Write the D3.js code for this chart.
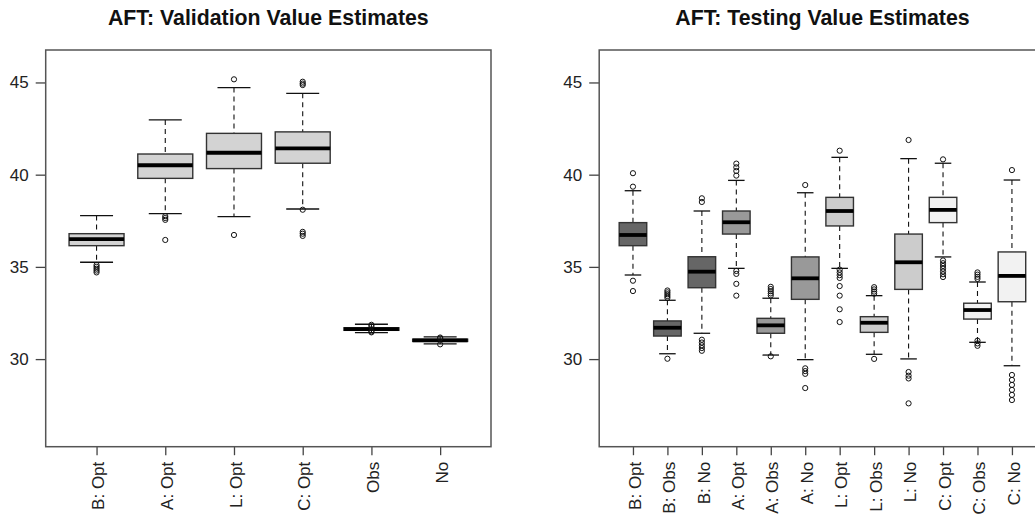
<!DOCTYPE html>
<html>
<head>
<meta charset="utf-8">
<title>AFT value estimates</title>
<script src="https://d3js.org/d3.v7.min.js"></script>
<style>
  body { margin: 0; background: #fff; }
  text { font-family: "Liberation Sans", Arial, sans-serif; fill: #222; }
</style>
</head>
<body>
<div id="chart"></div>
<script>
// ---- validation panel data ----
var valCats = ["B: Opt", "A: Opt", "L: Opt", "C: Opt", "Obs", "No"];
var valLow  = [35.25, 37.89, 37.72, 38.14, 31.43, 30.82];
var valQ1   = [36.15, 39.80, 40.33, 40.62, 31.56, 30.96];
var valMed  = [36.51, 40.51, 41.19, 41.43, 31.63, 31.02];
var valQ3   = [36.80, 41.12, 42.24, 42.32, 31.70, 31.08];
var valHigh = [37.78, 42.97, 44.72, 44.41, 31.89, 31.21];
var valOut  = [
  [35.10, 35.00, 34.90, 34.80, 34.70],
  [37.75, 37.65, 37.55, 36.46],
  [45.17, 36.73],
  [45.04, 44.94, 44.86, 38.10, 36.90, 36.80, 36.68],
  [31.86, 31.78, 31.50, 31.45],
  [31.17, 31.12, 30.80]
];
var valFill = ["#d3d3d3", "#d3d3d3", "#d3d3d3", "#d3d3d3", "#d3d3d3", "#d3d3d3"];

// ---- testing panel data ----
var tstCats = ["B: Opt", "B: Obs", "B: No", "A: Opt", "A: Obs", "A: No",
               "L: Opt", "L: Obs", "L: No", "C: Opt", "C: Obs", "C: No"];
var tstLow  = [34.56, 30.29, 31.40, 34.92, 30.22, 29.97, 34.92, 30.26, 30.01, 35.54, 30.91, 29.64];
var tstQ1   = [36.15, 31.25, 33.87, 36.78, 31.40, 33.24, 37.22, 31.45, 33.78, 37.40, 32.17, 33.11];
var tstMed  = [36.73, 31.70, 34.74, 37.42, 31.83, 34.38, 38.03, 31.97, 35.25, 38.09, 32.66, 34.51];
var tstQ3   = [37.40, 32.07, 35.55, 38.03, 32.21, 35.54, 38.77, 32.30, 36.78, 38.77, 33.03, 35.81];
var tstHigh = [39.13, 33.19, 38.03, 39.69, 33.30, 39.02, 40.94, 33.44, 40.87, 40.62, 34.18, 39.71];
var tstOut  = [
  [40.08, 39.35, 34.25, 33.69],
  [33.72, 33.62, 33.52, 33.42, 33.32, 30.02],
  [38.72, 38.52, 31.05, 30.90, 30.75, 30.60, 30.45],
  [40.60, 40.40, 40.20, 39.95, 34.78, 34.62, 34.08, 33.44],
  [33.92, 33.80, 33.68, 33.56, 33.45, 30.15],
  [39.44, 29.50, 29.35, 29.20, 28.43],
  [41.30, 34.85, 34.70, 34.55, 34.40, 33.96, 33.44, 32.70, 32.01],
  [33.90, 33.78, 33.66, 33.55, 30.01],
  [41.88, 29.30, 29.10, 28.95, 27.60],
  [40.83, 35.35, 35.20, 35.05, 34.90, 34.75, 34.60, 34.45],
  [34.70, 34.58, 34.46, 34.35, 31.00, 30.85, 30.72],
  [40.25, 29.14, 28.87, 28.60, 28.33, 28.06, 27.78]
];
var tstFill = ["#666666", "#666666", "#666666", "#999999", "#999999", "#999999",
               "#cccccc", "#cccccc", "#cccccc", "#f2f2f2", "#f2f2f2", "#f2f2f2"];

var yTicks = [30, 35, 40, 45];

var width = 1035, height = 514;
var svg = d3.select("#chart").append("svg")
    .attr("width", width)
    .attr("height", height);

function drawPanel(opt) {
  var n = opt.cats.length;
  // R style: xlim = [0.5, n + 0.5], expanded 4%
  var pad = 0.04 * n;
  var x = d3.scaleLinear().domain([0.5 - pad, n + 0.5 + pad]).range([opt.left, opt.right]);
  var y = d3.scaleLinear().domain([25.25, 46.76]).range([446.7, 50]);
  var unit = x(2) - x(1);
  var bw = unit * 0.8;
  var sw = unit * 0.48;

  var g = svg.append("g");

  var rows = opt.cats.map(function(c, i) {
    return { cat: c, i: i + 1, lo: opt.low[i], q1: opt.q1[i], med: opt.med[i],
             q3: opt.q3[i], hi: opt.high[i], out: opt.out[i], fill: opt.fill[i] };
  });

  var box = g.selectAll(".bx").data(rows).enter().append("g").attr("class", "bx");

  // whiskers (dashed)
  box.append("line")
    .attr("x1", d => x(d.i)).attr("x2", d => x(d.i))
    .attr("y1", d => y(d.hi)).attr("y2", d => y(d.q3))
    .attr("stroke", "#111").attr("stroke-width", 1.1).attr("stroke-dasharray", "5,4");
  box.append("line")
    .attr("x1", d => x(d.i)).attr("x2", d => x(d.i))
    .attr("y1", d => y(d.q1)).attr("y2", d => y(d.lo))
    .attr("stroke", "#111").attr("stroke-width", 1.1).attr("stroke-dasharray", "5,4");
  // staples
  box.append("line")
    .attr("x1", d => x(d.i) - sw / 2).attr("x2", d => x(d.i) + sw / 2)
    .attr("y1", d => y(d.hi)).attr("y2", d => y(d.hi))
    .attr("stroke", "#111").attr("stroke-width", 1.3);
  box.append("line")
    .attr("x1", d => x(d.i) - sw / 2).attr("x2", d => x(d.i) + sw / 2)
    .attr("y1", d => y(d.lo)).attr("y2", d => y(d.lo))
    .attr("stroke", "#111").attr("stroke-width", 1.3);
  // box
  box.append("rect")
    .attr("x", d => x(d.i) - bw / 2)
    .attr("width", bw)
    .attr("y", d => y(d.q3))
    .attr("height", d => Math.max(0.5, y(d.q1) - y(d.q3)))
    .attr("fill", d => d.fill)
    .attr("stroke", "#333").attr("stroke-width", 1.4);
  // median
  box.append("line")
    .attr("x1", d => x(d.i) - bw / 2).attr("x2", d => x(d.i) + bw / 2)
    .attr("y1", d => y(d.med)).attr("y2", d => y(d.med))
    .attr("stroke", "#000").attr("stroke-width", 3.8);
  // outliers
  box.selectAll("circle").data(d => d.out.map(v => ({ i: d.i, v: v }))).enter()
    .append("circle")
    .attr("cx", d => x(d.i)).attr("cy", d => y(d.v))
    .attr("r", 2.6)
    .attr("fill", "none").attr("stroke", "#111").attr("stroke-width", 1);

  // y axis
  var ya = d3.axisLeft(y).tickValues(yTicks).tickSize(10).tickPadding(7);
  var yg = g.append("g").attr("transform", "translate(" + opt.left + ",0)").call(ya);
  yg.select(".domain").remove();
  yg.selectAll(".tick line").attr("stroke", "#444").attr("stroke-width", 1.3);
  yg.selectAll(".tick text").style("font-size", "17px").style("fill", "#222");

  // x axis
  var xa = d3.axisBottom(x).tickValues(d3.range(1, n + 1))
    .tickFormat(i => opt.cats[i - 1]).tickSize(8.5).tickPadding(0);
  var xg = g.append("g").attr("transform", "translate(0,446.7)").call(xa);
  xg.select(".domain").remove();
  xg.selectAll(".tick line").attr("stroke", "#444").attr("stroke-width", 1.3);
  xg.selectAll(".tick text")
    .style("font-size", "17px").style("fill", "#222")
    .attr("text-anchor", "end")
    .attr("transform", "translate(0,15) rotate(-90)")
    .attr("x", 0).attr("y", 0).attr("dy", "0.42em");

  // frame
  g.append("rect")
    .attr("x", opt.left).attr("y", 50)
    .attr("width", opt.right - opt.left).attr("height", 446.7 - 50)
    .attr("fill", "none").attr("stroke", "#555").attr("stroke-width", 1.5);

  // title
  g.append("text")
    .attr("x", (opt.left + opt.right) / 2).attr("y", 25)
    .attr("text-anchor", "middle")
    .style("font-size", "21.3px").style("font-weight", "bold").style("fill", "#111")
    .text(opt.title);
}

drawPanel({ title: "AFT: Validation Value Estimates", left: 45.7, right: 491,
  cats: valCats, low: valLow, q1: valQ1, med: valMed, q3: valQ3, high: valHigh,
  out: valOut, fill: valFill });

drawPanel({ title: "AFT: Testing Value Estimates", left: 599.2, right: 1045.7,
  cats: tstCats, low: tstLow, q1: tstQ1, med: tstMed, q3: tstQ3, high: tstHigh,
  out: tstOut, fill: tstFill });
</script>
</body>
</html>
